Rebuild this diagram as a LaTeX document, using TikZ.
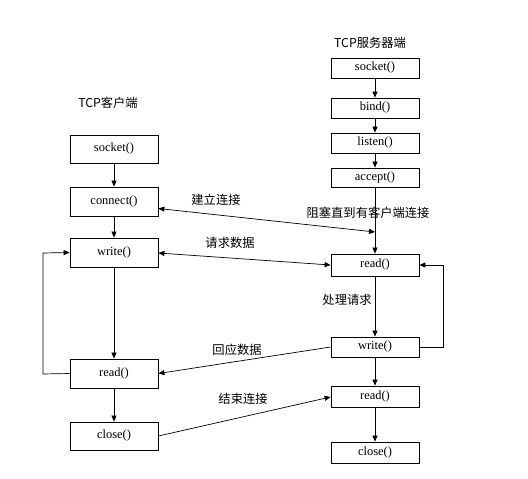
\documentclass[tikz,border=0pt]{standalone}
\usepackage{fontspec}
\setmainfont{Liberation Serif}
\newfontfamily\cjk{Noto Sans CJK SC}
\usetikzlibrary{arrows.meta,calc}
\begin{document}
\begin{tikzpicture}[x=1bp,y=-1bp,
  fbox/.style={draw,line width=0.8pt,minimum width=88bp,inner sep=0pt,font=\fontsize{12.5}{14}\selectfont},
  lbl/.style={font=\cjk\fontsize{12.3}{14}\selectfont,inner sep=0pt},
  arr/.style={-{Triangle[length=6bp,width=5bp]},line width=0.7pt},
  barr/.style={{Triangle[length=6bp,width=5bp]}-{Triangle[length=6bp,width=5bp]},line width=0.7pt}]
\useasboundingbox (0,0) rectangle (528,479);
% client
\node[lbl] (tc) at (108,103) {TCP客户端};
\node[fbox,minimum height=28bp] (cs) at (114,149) {socket()};
\node[fbox,minimum height=29bp] (cc) at (114,201.5) {connect()};
\node[fbox,minimum height=29bp] (cw) at (114,252.5) {write()};
\node[fbox,minimum height=29bp] (cr) at (114,373.5) {read()};
\node[fbox,minimum height=28bp] (cx) at (114,436) {close()};
% server
\node[lbl] (ts) at (370,43) {TCP服务器端};
\node[fbox,minimum height=20bp] (ss) at (375,68) {socket()};
\node[fbox,minimum height=20bp] (sb) at (375,108) {bind()};
\node[fbox,minimum height=20bp] (sl) at (375,143) {listen()};
\node[fbox,minimum height=19bp] (sa) at (375,177.5) {accept()};
\node[fbox,minimum height=22bp] (sr) at (375,265) {read()};
\node[fbox,minimum height=20bp] (sw) at (375,347) {write()};
\node[fbox,minimum height=21bp] (sr2) at (375,396.5) {read()};
\node[fbox,minimum height=21bp] (sx) at (375,452.5) {close()};
% labels
\node[lbl] (l1) at (216,200) {建立连接};
\node[lbl] (l2) at (230,243) {请求数据};
\node[lbl] (l3) at (368,213) {阻塞直到有客户端连接};
\node[lbl] (l4) at (347,300) {处理请求};
\node[lbl] (l5) at (237,350) {回应数据};
\node[lbl] (l6) at (243,399) {结束连接};
% client flow
\draw[arr] (cs) -- (cc);
\draw[arr] (cc) -- (cw);
\draw[arr] (cw) -- (cr);
\draw[arr] (cr) -- (cx);
\coordinate (lb) at (43,374);
\coordinate (lt) at (43,253);
\draw[arr] (cr.west) -- (lb) -- (lt) -- (cw.west);
% server flow
\draw[arr] (ss) -- (sb);
\draw[arr] (sb) -- (sl);
\draw[arr] (sl) -- (sa);
\draw[arr] (sa) -- (sr);
\draw[arr] (sr) -- (sw);
\draw[arr] (sw) -- (sr2);
\draw[arr] (sr2) -- (sx);
\coordinate (rb) at (443,347);
\coordinate (rt) at (443,265);
\draw[arr] (sw.east) -- (rb) -- (rt) -- (sr.east);
% cross
\coordinate (jn) at (375,232);
\draw[barr] ($(cc.east)+(0,7)$) -- (jn);
\draw[barr] ($(cw.east)+(0,0.5)$) -- (sr.west);
\draw[arr] (sw.west) -- (cr.east);
\draw[arr] (cx.east) -- ($(sr2.west)+(0,0.5)$);
\end{tikzpicture}
\end{document}
